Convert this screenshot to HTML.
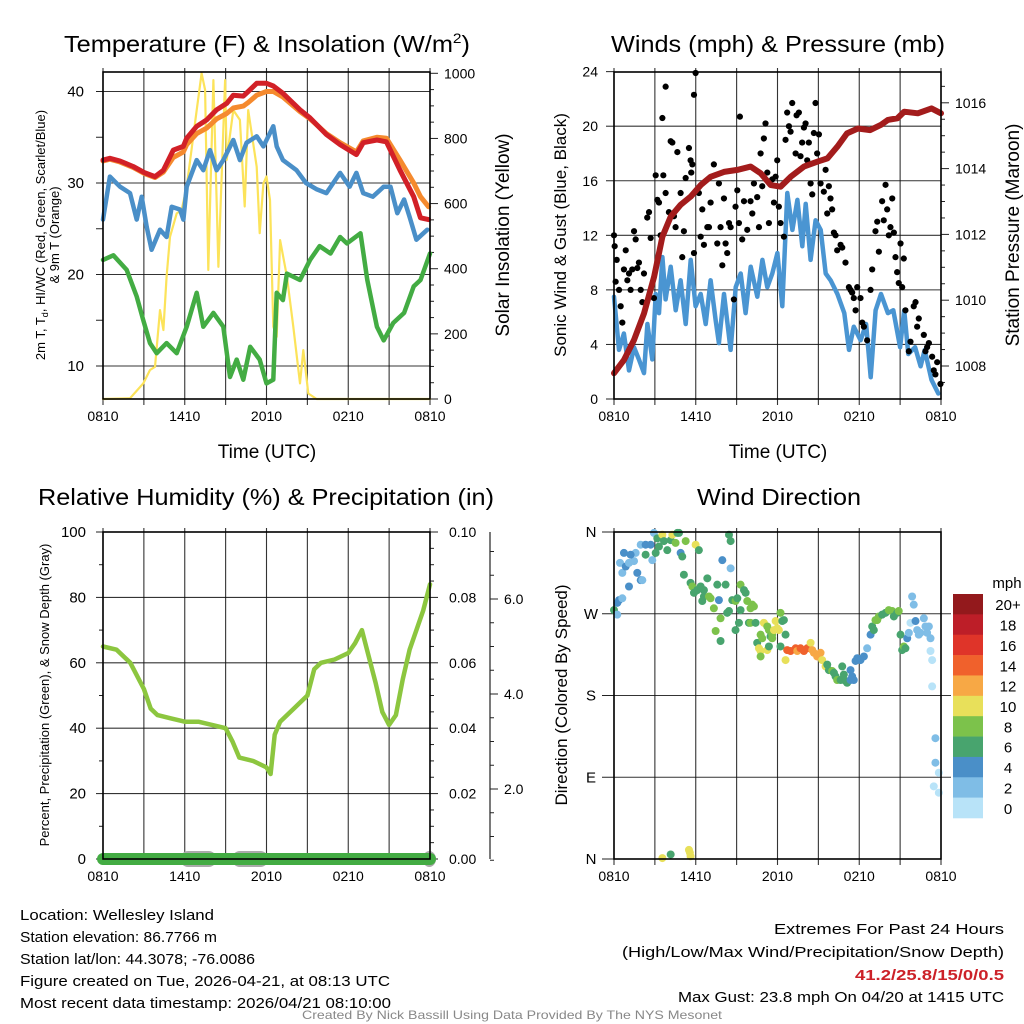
<!DOCTYPE html>
<html><head><meta charset="utf-8"><style>
html,body{margin:0;padding:0;background:#fff;}
svg{display:block;font-family:"Liberation Sans",sans-serif;}
</style></head><body>
<svg id="chart" xmlns="http://www.w3.org/2000/svg" width="1024" height="1024" viewBox="0 0 1024 1024">
<rect x="0" y="0" width="1024" height="1024" fill="#fff"/>
<text x="267" y="52" font-size="23" text-anchor="middle" textLength="406" lengthAdjust="spacingAndGlyphs">Temperature (F) &amp; Insolation (W/m<tspan font-size="14" dy="-9">2</tspan><tspan dy="9">)</tspan></text>
<text x="778" y="52" font-size="23" text-anchor="middle" textLength="334" lengthAdjust="spacingAndGlyphs">Winds (mph) &amp; Pressure (mb)</text>
<text x="266" y="505" font-size="23" text-anchor="middle" textLength="456" lengthAdjust="spacingAndGlyphs">Relative Humidity (%) &amp; Precipitation (in)</text>
<text x="779" y="505" font-size="23" text-anchor="middle" textLength="164" lengthAdjust="spacingAndGlyphs">Wind Direction</text>

<text transform="translate(45,235) rotate(-90)" font-size="13" text-anchor="middle">2m T, T<tspan font-size="9" dy="3">d</tspan><tspan dy="-3">, HI/WC (Red, Green, Scarlet/Blue)</tspan></text>
<text transform="translate(59,235) rotate(-90)" font-size="13" text-anchor="middle">&amp; 9m T (Orange)</text>
<text transform="translate(509,235) rotate(-90)" font-size="19" text-anchor="middle">Solar Insolation (Yellow)</text>
<text transform="translate(566,235) rotate(-90)" font-size="17" text-anchor="middle">Sonic Wind &amp; Gust (Blue, Black)</text>
<text transform="translate(1019,235) rotate(-90)" font-size="19" text-anchor="middle">Station Pressure (Maroon)</text>
<text transform="translate(49,695) rotate(-90)" font-size="13" text-anchor="middle">Percent, Precipitation (Green), &amp; Snow Depth (Gray)</text>
<text transform="translate(567,695) rotate(-90)" font-size="17" text-anchor="middle">Direction (Colored By Speed)</text>
<text x="267" y="458" font-size="19" text-anchor="middle">Time (UTC)</text>
<text x="778" y="458" font-size="19" text-anchor="middle">Time (UTC)</text>

<g font-size="15">
<text x="20" y="920" textLength="194" lengthAdjust="spacingAndGlyphs">Location: Wellesley Island</text>
<text x="20" y="942" textLength="197" lengthAdjust="spacingAndGlyphs">Station elevation: 86.7766 m</text>
<text x="20" y="964" textLength="235" lengthAdjust="spacingAndGlyphs">Station lat/lon: 44.3078; -76.0086</text>
<text x="20" y="986" textLength="370" lengthAdjust="spacingAndGlyphs">Figure created on Tue, 2026-04-21, at 08:13 UTC</text>
<text x="20" y="1008" textLength="371" lengthAdjust="spacingAndGlyphs">Most recent data timestamp: 2026/04/21 08:10:00</text>
</g>
<g font-size="15" text-anchor="end">
<text x="1004" y="934" textLength="230" lengthAdjust="spacingAndGlyphs">Extremes For Past 24 Hours</text>
<text x="1004" y="957" textLength="382" lengthAdjust="spacingAndGlyphs">(High/Low/Max Wind/Precipitation/Snow Depth)</text>
<text x="1004" y="980" fill="#cc2128" font-weight="bold" textLength="149" lengthAdjust="spacingAndGlyphs">41.2/25.8/15/0/0.5</text>
<text x="1004" y="1002" textLength="326" lengthAdjust="spacingAndGlyphs">Max Gust: 23.8 mph On 04/20 at 1415 UTC</text>
</g>
<text x="512" y="1019" font-size="12" fill="#888" text-anchor="middle" textLength="420" lengthAdjust="spacingAndGlyphs">Created By Nick Bassill Using Data Provided By The NYS Mesonet</text>
</svg>
<script>
// ---------- shared time axis ----------
const timeTickHours=[0,6,12,18,24];
const timeTickLabels=['0810','1410','2010','0210','0810'];
const timeGridHours=[0,3,6,9,12,15,18,21,24];
// ---------- panel 1 data ----------
const tempTicks=[10,20,30,40];
const tempMinorTicks=[10,15,20,25,30,35,40];
const solarTicks=[0,200,400,600,800,1000];
const solarMinorTicks=[0,50,100,150,200,250,300,350,400,450,500,550,600,650,700,750,800,850,900,950,1000];
const redH=[0,0.51,1.25,2.22,3.08,3.82,4.43,5.16,5.89,6.14,6.88,7.61,8.34,9.08,9.56,10.3,10.66,11.28,12.0,12.5,13.2,14.46,15.2,16.4,17.4,18.6,19.1,20.1,20.8,21.8,22.8,23.3,23.9];
const redT=[32.5,32.7,32.4,31.8,31.1,30.7,31.4,33.6,34.0,34.9,36.2,36.9,38.0,38.7,39.6,39.5,40.0,40.9,40.9,40.6,39.8,38.0,37.1,35.3,34.2,33.1,34.4,34.7,34.5,31.4,28.5,26.2,26.0];
const orangeT=[32.4,32.6,32.3,31.7,31.0,30.6,31.2,32.8,33.4,34.2,35.4,36.0,37.0,37.6,38.2,38.4,38.8,39.6,40.0,40.0,39.4,37.8,37.0,35.4,34.4,33.4,34.6,35.0,34.9,32.5,30.0,28.5,27.4];
const blueH=[0,0.51,1.25,1.98,2.47,2.84,3.21,3.57,4.18,4.67,5.04,5.65,5.9,6.14,6.88,7.36,7.85,8.34,8.83,9.56,10.05,10.54,11.28,11.77,12.5,12.75,13.2,14.2,14.9,15.7,16.4,17.4,18.1,18.6,19.1,19.8,20.6,21.1,21.6,22.1,22.5,23.0,23.8];
const blueT=[26.0,30.7,29.6,28.9,26.0,28.5,25.2,22.7,24.9,24.1,27.4,27.1,26.0,29.6,32.5,31.4,33.6,31.4,32.5,34.7,32.5,34.4,35.1,34.0,36.2,34.0,32.5,31.4,30.0,29.3,28.9,31.1,29.6,31.1,28.9,28.5,29.6,29.6,26.7,28.2,26.3,23.8,24.9];
const greenH=[0,0.76,1.74,2.47,2.96,3.45,3.94,4.67,5.41,6.14,6.88,7.36,8.1,8.83,9.32,9.81,10.3,10.8,11.5,12.0,12.5,12.75,13.2,13.5,14.46,15.2,15.9,16.7,17.4,17.9,18.9,19.4,20.1,20.6,21.3,22.1,22.8,23.3,24];
const greenT=[21.6,22.1,20.5,17.6,15.0,12.5,11.4,12.5,11.4,14.3,18.0,14.3,15.8,14.3,8.8,10.7,8.5,12.1,10.7,8.1,8.5,18.0,17.2,20.1,19.4,21.6,23.1,22.3,24.1,23.4,24.5,19.4,14.3,12.8,14.7,15.8,18.7,19.4,22.3];
const solarH=[0,1.98,2.96,3.45,3.82,4.18,4.43,4.67,4.92,5.41,5.77,6.14,6.88,7.24,7.49,7.73,8.1,8.47,8.96,9.08,9.56,10.05,10.4,10.66,11.28,11.5,11.77,12.0,12.26,12.5,12.75,13.0,13.5,13.97,14.46,14.7,15.07,15.68,24];
const solarW=[0,2,48,89,99,273,212,376,498,570,580,652,887,1000,949,396,979,406,979,734,887,857,591,887,713,509,662,683,611,222,191,488,376,222,48,150,17,0,0];
// ---------- panel 2 data ----------
const windTicks=[0,4,8,12,16,20,24];
const presTicks=[1008,1010,1012,1014,1016];
const presMinorTicks=[1007.5,1008,1008.5,1009,1009.5,1010,1010.5,1011,1011.5,1012,1012.5,1013,1013.5,1014,1014.5,1015,1015.5,1016,1016.5];
const presH=[0,0.73,1.47,2.2,2.94,3.55,4.16,4.89,5.63,6.36,7.09,8.07,9.05,10.03,10.76,11.5,12.23,12.97,13.94,14.92,15.66,16.4,17.1,17.9,18.8,19.6,20.1,20.8,21.3,22.3,23.3,24];
const presV=[1007.78,1008.18,1008.79,1009.6,1010.71,1011.93,1012.54,1012.9,1013.15,1013.5,1013.75,1013.9,1013.96,1014.06,1013.86,1013.5,1013.45,1013.75,1014.06,1014.21,1014.31,1014.67,1015.07,1015.22,1015.17,1015.33,1015.48,1015.53,1015.73,1015.68,1015.83,1015.68];
const windH=[0,0.37,0.73,1.1,1.47,1.83,2.2,2.45,2.81,3.06,3.3,3.55,3.79,4.16,4.53,4.89,5.26,5.63,5.99,6.36,6.73,7.09,7.46,7.7,8.07,8.56,8.93,9.3,9.66,10.03,10.52,10.89,11.25,11.62,11.99,12.35,12.72,13.09,13.46,13.82,14.07,14.43,14.8,15.17,15.54,15.9,16.4,16.9,17.25,17.6,18.1,18.5,18.84,19.2,19.6,20.1,20.5,21.0,21.3,21.6,22.1,22.5,22.8,23.3,23.8];
const windV=[7.5,3.6,4.8,2.1,3.8,2.9,1.9,5.5,2.9,7.7,6.3,10.4,7.3,9.7,6.5,8.7,5.5,10.2,6.8,7.7,5.5,8.7,5.8,4.1,7.7,3.6,8.2,9.2,6.3,9.7,7.5,10.2,8.2,9.2,10.7,6.8,15.1,12.4,14.6,11.2,14.3,10.2,13.1,12.4,9.2,8.7,7.7,6.3,3.6,5.3,4.3,5.5,1.6,6.5,7.7,6.3,6.5,3.8,6.5,3.3,3.8,2.4,3.6,1.4,0.4];
const gustH=[0,0.05,0.2,0.12,0.37,0.49,0.61,0.86,0.73,0.98,1.1,1.22,1.34,1.47,1.59,1.71,1.83,1.96,2.08,2.2,2.44,2.57,2.69,2.93,3.06,3.18,3.3,3.42,3.55,3.62,3.79,3.79,4.03,4.16,4.28,4.4,4.52,4.65,4.89,5.01,5.13,5.26,5.5,5.62,5.67,5.75,5.87,5.87,5.99,6.23,6.36,6.48,6.6,6.85,6.97,7.09,7.33,7.58,7.7,7.82,7.95,8.07,8.19,8.31,8.44,8.56,8.8,8.92,9.05,9.17,9.24,9.41,9.54,9.78,10.02,10.15,10.27,10.51,10.64,10.76,10.88,11.0,11.12,11.25,11.37,11.61,11.74,11.86,11.98,12.1,12.22,12.47,12.59,12.71,12.84,12.96,13.08,13.33,13.4,13.57,13.69,13.81,13.94,14.06,14.18,14.3,14.43,14.55,14.67,14.79,14.91,15.04,15.16,15.4,15.53,15.65,15.77,15.89,16.01,16.14,16.26,16.38,16.63,16.75,16.99,17.24,17.36,17.48,17.6,17.73,17.85,18.09,18.22,18.34,18.58,18.83,18.95,19.19,19.32,19.44,19.68,19.8,19.93,20.05,20.17,20.29,20.42,20.54,20.66,20.78,20.9,21.03,21.15,21.27,21.39,21.64,21.76,22.0,22.13,22.25,22.37,22.74,22.86,22.98,23.11,23.35,23.47,23.59,23.72,23.96];
const gustV=[12.0,11.2,10.2,8.6,8.0,6.8,5.6,10.9,9.5,8.7,9.2,8.0,9.5,12.3,11.7,9.6,10.0,8.0,7.1,9.2,13.3,13.7,11.8,7.4,16.4,14.6,14.4,12.0,20.6,16.4,22.9,15.1,13.7,18.9,18.8,13.4,12.6,18.1,15.1,10.4,12.3,16.2,18.4,17.5,16.6,17.2,10.7,22.3,23.9,15.1,11.9,13.9,11.3,12.6,12.6,14.4,17.2,11.4,15.8,12.6,9.8,14.7,11.4,10.7,12.9,12.6,7.3,14.1,15.3,12.9,20.7,11.7,14.5,12.4,14.5,13.6,15.8,14.8,12.6,18.0,15.6,19.1,20.2,16.6,12.9,16.1,14.4,16.3,17.5,14.1,12.9,11.9,19.0,21.0,20.0,19.6,21.7,18.0,20.8,21.0,17.8,18.8,19.9,20.2,17.5,18.8,15.8,15.0,19.5,21.7,18.0,19.4,15.8,15.2,16.8,13.6,15.6,14.7,13.9,12.2,12.0,10.9,11.3,11.1,10.0,8.2,8.0,7.8,7.4,6.5,8.2,7.4,5.6,5.3,4.3,8.0,9.5,12.3,13.0,10.8,14.5,13.1,15.7,13.9,12.0,12.6,14.7,12.2,10.4,9.3,8.5,11.4,8.2,10.3,6.5,3.5,4.2,6.8,7.1,5.3,5.9,4.7,3.5,3.8,4.1,3.1,2.1,1.8,2.7,1.1];
// ---------- panel 3 data ----------
const rhTicks=[0,20,40,60,80,100];
const precipTicks=[0,0.02,0.04,0.06,0.08,0.10];
const precipTickLabels=['0.00','0.02','0.04','0.06','0.08','0.10'];
const snowTicks=[2,4,6];
const snowTickLabels=['2.0','4.0','6.0'];
const rhH=[0,1,2,3,3.5,4,5,6,7,8,9,9.5,10,11,12,12.3,12.6,13,14,15,15.5,16,17,18,18.5,19,19.5,20,20.5,21,21.5,22,22.5,23,23.5,24];
const rhV=[65,64,60,52,46,44,43,42,42,41,40,36,31,30,28,26,38,42,46,50,58,60,61,63,66,70,62,54,45,41,44,55,64,70,76,84];
const precipH=[0,24];
const precipV=[0,0];
const snowBlobStart=[6.1,9.9,23.9];
const snowBlobEnd=[7.9,11.7,24.0];
// ---------- panel 4 data ----------
const dirTicks=[0,90,180,270,360];
const dirTickLabels=['N','E','S','W','N'];
const speedBins=[0,2,4,6,8,10,12,14,16,18,20];
const speedBinLabels=['0','2','4','6','8','10','12','14','16','18','20+'];
const speedColors=['#b8e3f8','#7fbde6','#4a8fc8','#48a46e','#7cc24b','#e8e05a','#f7a845','#f0612c','#df3429','#bd1e28','#93191c'];
const dirH=[0,0.24,0.37,0.61,0.24,0.44,0.61,0.86,0.73,1.1,1.47,1.59,1.22,1.71,1.96,2.08,1.1,1.96,2.32,2.69,2.32,2.81,2.93,3.06,3.18,3.3,3.55,3.67,3.91,4.16,4.28,4.52,4.65,4.77,4.89,5.01,5.26,5.99,6.23,5.13,5.62,5.75,5.87,6.11,6.36,6.6,6.85,6.6,6.48,6.97,7.09,7.33,7.58,7.7,7.82,7.95,8.19,8.31,8.44,8.44,8.56,8.56,7.46,7.82,8.68,8.92,9.05,9.29,9.17,8.92,9.29,9.54,9.66,9.78,10.02,10.15,10.27,9.9,10.02,10.39,10.51,10.64,10.76,10.76,10.76,10.88,11.0,11.25,11.37,11.49,11.61,11.74,11.86,11.98,12.1,12.22,12.35,12.47,12.59,11.25,11.37,11.61,12.22,12.59,12.71,12.96,13.33,13.45,13.69,13.94,14.18,14.43,14.55,14.67,14.91,15.16,15.28,15.53,15.65,15.77,16.01,16.14,16.26,16.38,16.63,16.75,16.87,16.99,17.11,17.36,17.48,17.6,17.36,17.73,17.85,18.09,18.34,18.58,18.83,18.95,19.07,19.19,19.32,19.44,19.68,19.93,20.17,20.42,20.54,20.78,20.9,21.03,21.15,21.27,21.39,21.52,21.64,21.76,21.88,22.0,22.13,22.25,22.37,22.49,22.74,22.86,22.98,23.11,23.23,23.23,23.35,23.35,23.59,23.59,23.84,23.47,23.84,3.55,4.16,5.5,5.62,5.57];
const dirV=[274,282,285,287,269,326,315,322,337,326,328,337,335,315,307,307,300,346,346,346,335,329,359,337,353,344,357,350,340,351,357,348,359,359,337,333,350,346,340,313,304,300,293,296,300,296,309,289,284,289,287,276,302,285,265,329,302,271,273,357,350,320,251,240,285,284,287,274,260,252,302,296,293,284,276,280,278,260,260,260,238,232,229,247,223,243,260,256,252,245,247,252,262,254,252,271,262,263,247,230,234,243,234,219,230,229,232,229,232,229,232,238,230,227,223,227,219,212,214,208,207,205,201,197,197,212,203,196,194,197,201,197,208,218,221,219,223,232,247,256,252,263,263,267,269,271,274,273,267,271,273,247,230,234,232,243,249,260,289,280,262,252,247,249,265,256,249,256,243,229,219,190,133,106,95,80,73,1,5,10,3,7];
const dirS=[6,4,4,2,2,2,2,4,4,2,2,2,4,4,4,2,4,2,4,4,6,2,2,6,6,6,10,6,6,6,10,8,6,6,4,6,8,10,6,6,6,8,6,6,6,6,6,6,6,8,8,8,6,4,8,4,6,6,6,6,6,2,8,6,6,8,6,6,6,6,8,6,6,8,8,8,8,6,8,6,6,10,10,8,8,8,10,8,8,6,8,10,10,10,10,8,6,6,6,10,6,8,6,10,14,14,14,12,14,14,14,10,12,12,12,12,10,10,6,6,8,6,6,8,6,6,6,6,6,4,4,4,4,4,4,4,4,2,4,6,6,8,8,8,6,6,8,8,6,6,8,6,6,8,6,4,2,0,2,2,4,2,2,2,2,2,2,2,2,0,0,0,2,2,0,0,0,10,6,10,10,10];

// ---------- helpers ----------
const NS='http://www.w3.org/2000/svg';
const svg=document.getElementById('chart');
function mk(tag,attrs,parent){const e=document.createElementNS(NS,tag);for(const k in attrs)e.setAttribute(k,attrs[k]);(parent||svg).appendChild(e);return e;}
function pathFrom(hs,vs,fx,fy){let d='';const n=Math.min(hs.length,vs.length);for(let i=0;i<n;i++){d+=(i?'L':'M')+fx(hs[i]).toFixed(1)+','+fy(vs[i]).toFixed(1);}return d;}

// axis functions
const L1=103,R1=430,T1=72,B1=399;
const L2=614,R2=941;
const T3=532,B3=859;
const xA=h=>L1+h*(R1-L1)/24;
const xB=h=>L2+h*(R2-L2)/24;
const yTemp=t=>366-(t-10)*9.15;
const ySolar=w=>B1-w*0.3257;
const yWind=s=>B1-s*13.64;
const yPres=p=>366-(p-1008)*32.9;
const yRH=r=>B3-r*3.27;
const yPrecip=v=>B3-v*3270;
const ySnow=s=>884-s*47.5;
const yDir=d=>B3-d*(B3-T3)/360;

function frame(name,L,R,T,B,xf){
  const g=mk('g',{});
  
  
  timeGridHours.forEach(h=>{
    const ln=mk('line',{x1:xf(h),x2:xf(h),y1:T-4,y2:B+6,stroke:'#111','stroke-width':1.1,'stroke-opacity':0.85},g);
    
    
  });
  timeTickHours.forEach((h,i)=>{
    const t=mk('text',{x:xf(h),y:B+22,'font-size':14,'text-anchor':'middle'},g);
    t.textContent=timeTickLabels[i];
    
    
  });
  return g;
}
function hgrid(g,name,L,R,y){
  const ln=mk('line',{x1:L,x2:R,y1:y,y2:y,stroke:'#111','stroke-width':1.1,'stroke-opacity':0.85},g);
  
  
}
function tick(g,name,x1,x2,y){
  const ln=mk('line',{x1:x1,x2:x2,y1:y,y2:y,stroke:'#222','stroke-width':1},g);
  
  
}
function label(g,name,x,y,txt,anchor,size){
  const t=mk('text',{x:x,y:y+5,'font-size':size||15,'text-anchor':anchor},g);
  t.textContent=txt;
  
  
}
function border(name,L,R,T,B){
  const r=mk('rect',{x:L,y:T,width:R-L,height:B-T,fill:'none',stroke:'#000','stroke-width':1.6});
  
  
}
function line(name,hs,vs,fx,fy,color,w){
  const p=mk('path',{d:pathFrom(hs,vs,fx,fy),fill:'none',stroke:color,'stroke-width':w,'stroke-linejoin':'round','stroke-linecap':'round'});
  
  
  return p;
}

// ---------- panel 1 ----------
let g=frame('temperature',L1,R1,T1,B1,xA);
tempTicks.forEach(t=>{hgrid(g,'temperature',L1,R1,yTemp(t));label(g,'temperature-y',84,yTemp(t),String(t),'end');});
tempMinorTicks.forEach(t=>tick(g,'temperature-y',L1-7,L1,yTemp(t)));
solarMinorTicks.forEach(w=>tick(g,'solar-y',R1,R1+(w%200===0?8:4),ySolar(w)));
solarTicks.forEach(w=>label(g,'solar-y',444,ySolar(w),String(w),'start',14));
line('solar-insolation-line',solarH,solarW,xA,ySolar,'#fce35a',2.2);
line('hiwc-temperature-line',blueH,blueT,xA,yTemp,'#4a8fc8',4.5);
line('dewpoint-line',greenH,greenT,xA,yTemp,'#43ac43',4.5);
line('9m-temperature-line',redH,orangeT,xA,yTemp,'#f58a2e',5);
line('2m-temperature-line',redH,redT,xA,yTemp,'#d22027',5);
border('temperature',L1,R1,T1,B1);

// ---------- panel 2 ----------
g=frame('winds',L2,R2,T1,B1,xB);
windTicks.forEach(s=>{if(s>0&&s<24)hgrid(g,'winds',L2,R2,yWind(s));tick(g,'wind-y',L2-8,L2,yWind(s));label(g,'wind-y',598,yWind(s),String(s),'end',14);});
presMinorTicks.forEach(p=>tick(g,'pressure-y',R2,R2+(p%2===0?8:4),yPres(p)));
presTicks.forEach(p=>label(g,'pressure-y',955,yPres(p),String(p),'start',14));
line('sonic-wind-line',windH,windV,xB,yWind,'#4a95d2',4.5);
const gg=mk('g',{});


for(let i=0;i<Math.min(gustH.length,gustV.length);i++){
  const c=mk('circle',{cx:xB(gustH[i]),cy:yWind(gustV[i]),r:3.1,fill:'#000'},gg);
  
  
}
line('station-pressure-line',presH,presV,xB,yPres,'#a31c1c',6);
border('winds',L2,R2,T1,B1);

// ---------- panel 3 ----------
g=frame('humidity',L1,R1,T3,B3,xA);
rhTicks.forEach(r=>{if(r>0&&r<100)hgrid(g,'humidity',L1,R1,yRH(r));tick(g,'humidity-y',L1-7,L1,yRH(r));label(g,'humidity-y',86,yRH(r),String(r),'end');});
[10,30,50,70,90].forEach(r=>tick(g,'humidity-y-minor',L1-4,L1,yRH(r)));
precipTicks.forEach((v,i)=>{tick(g,'precip-y',R1,R1+8,yPrecip(v));label(g,'precip-y',449,yPrecip(v),precipTickLabels[i],'start',14);});
[0.01,0.03,0.05,0.07,0.09,0.005,0.015,0.025,0.035,0.045,0.055,0.065,0.075,0.085,0.095].forEach(v=>tick(g,'precip-y-minor',R1,R1+4,yPrecip(v)));
const sa=mk('line',{x1:490,x2:490,y1:T3,y2:B3,stroke:'#222','stroke-width':1.2});


[0.5,1,1.5,2,2.5,3,3.5,4,4.5,5,5.5,6,6.5,7].forEach(s=>tick(g,'snow-y',490,s%2===0?498:494,ySnow(s)));
snowTicks.forEach((s,i)=>label(g,'snow-y',504,ySnow(s),snowTickLabels[i],'start',14));
line('relative-humidity-line',rhH,rhV,xA,yRH,'#8cc63f',4.5);
for(let i=0;i<snowBlobStart.length;i++){
  const e=mk('rect',{x:xA(snowBlobStart[i])-6,y:B3-8,width:xA(snowBlobEnd[i])-xA(snowBlobStart[i])+12,height:16,rx:8,fill:'#aaa'});
  
  
}
line('precipitation-line',precipH,precipV,xA,yPrecip,'#43ac43',12);
border('humidity',L1,R1,T3,B3);

// ---------- panel 4 ----------
g=frame('direction',L2,R2,T3,B3,xB);
dirTicks.forEach((d,i)=>{if(d>0&&d<360)hgrid(g,'direction',L2,R2+10,yDir(d));tick(g,'direction-y',L2-12,L2,yDir(d));label(g,'direction-y',591,yDir(d),dirTickLabels[i],'middle',15);});
const dg=mk('g',{});


for(let i=0;i<Math.min(dirH.length,dirV.length,dirS.length);i++){
  const bin=Math.min(10,Math.floor(dirS[i]/2));
  const c=mk('circle',{cx:xB(dirH[i]),cy:yDir(dirV[i]),r:4,fill:speedColors[bin]},dg);
  
  
}
border('direction',L2,R2,T3,B3);
// colorbar
const cb=mk('g',{});


const binH=(818-594)/speedBins.length;
for(let i=0;i<speedBins.length;i++){
  const k=speedBins.length-1-i;
  const r=mk('rect',{x:953,y:594+i*binH,width:30,height:binH+0.3,fill:speedColors[k]},cb);
  
  
  const t=mk('text',{x:1008,y:594+i*binH+binH/2+6,'font-size':15,'text-anchor':'middle'},cb);
  t.textContent=speedBinLabels[k];
  
  
}
const mt=mk('text',{x:1007,y:588,'font-size':15,'text-anchor':'middle'},cb);
mt.textContent='mph';


</script>
</body></html>
